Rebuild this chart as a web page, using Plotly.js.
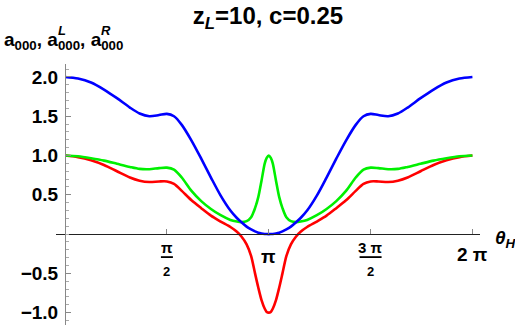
<!DOCTYPE html>
<html>
<head>
<meta charset="utf-8">
<script src="https://cdn.plot.ly/plotly-3.0.1.min.js"></script>
<style>
  html, body { margin: 0; padding: 0; background: #fff; }
  #chart { width: 515px; height: 327px; }
</style>
</head>
<body>
<div id="chart"></div>
<script>
// theta_H samples, 0 .. 2 pi
var thetaH = [
  0, 0.2, 0.4, 0.6, 0.8, 1.0, 1.15, 1.3, 1.45, 1.57, 1.68, 1.8, 1.95, 2.1, 2.25,
  2.4, 2.55, 2.65, 2.72, 2.8, 2.87, 2.93, 2.98, 3.03, 3.08, 3.11, 3.1416,
  3.1732, 3.2032, 3.2532, 3.3032, 3.3532, 3.4132, 3.4832, 3.5632, 3.6332, 3.7332,
  3.8832, 4.0332, 4.1832, 4.3332, 4.4832, 4.6032, 4.7132, 4.8332, 4.9832, 5.1332,
  5.2832, 5.4832, 5.6832, 5.8832, 6.0832, 6.2832
];

// a_000 (blue)
var a000 = [
  2.0, 1.98, 1.93, 1.84, 1.73, 1.61, 1.535, 1.50, 1.515, 1.53, 1.50, 1.39, 1.19, 0.96, 0.72,
  0.49, 0.30, 0.205, 0.152, 0.095, 0.06, 0.035, 0.018, 0.008, 0.002, 0.0005, 0,
  0.0005, 0.002, 0.008, 0.018, 0.035, 0.06, 0.095, 0.152, 0.205, 0.30,
  0.49, 0.72, 0.96, 1.19, 1.39, 1.50, 1.53, 1.515, 1.50, 1.535,
  1.61, 1.73, 1.84, 1.93, 1.98, 2.0
];

// a^L_000 (green)
var a000L = [
  1.0, 0.99, 0.965, 0.935, 0.895, 0.855, 0.83, 0.826, 0.84, 0.846, 0.82, 0.72, 0.55, 0.42, 0.32,
  0.24, 0.18, 0.16, 0.153, 0.165, 0.215, 0.33, 0.47, 0.68, 0.90, 0.97, 1.0,
  0.97, 0.90, 0.68, 0.47, 0.33, 0.215, 0.165, 0.153, 0.16, 0.18,
  0.24, 0.32, 0.42, 0.55, 0.72, 0.82, 0.846, 0.84, 0.826, 0.83,
  0.855, 0.895, 0.935, 0.965, 0.99, 1.0
];

// a^R_000 (red)
var a000R = [
  1.0, 0.98, 0.94, 0.88, 0.80, 0.72, 0.68, 0.663, 0.67, 0.67, 0.64, 0.55, 0.43, 0.33, 0.235,
  0.16, 0.09, 0.03, -0.03, -0.13, -0.28, -0.50, -0.68, -0.84, -0.95, -0.99, -1.0,
  -0.99, -0.95, -0.84, -0.68, -0.50, -0.28, -0.13, -0.03, 0.03, 0.09,
  0.16, 0.235, 0.33, 0.43, 0.55, 0.64, 0.67, 0.67, 0.663, 0.68,
  0.72, 0.80, 0.88, 0.94, 0.98, 1.0
];

var yTickVals = [-1.0, -0.5, 0.5, 1.0, 1.5, 2.0];
var yTickText = ['\u22121.0', '\u22120.5', '0.5', '1.0', '1.5', '2.0'];
var xTickVals = [Math.PI / 2, Math.PI, 3 * Math.PI / 2, 2 * Math.PI];

var FONT = 'Liberation Sans, Arial, sans-serif';

function curve(y, color) {
  return {
    x: thetaH, y: y, type: 'scatter', mode: 'lines',
    line: { color: color, width: 2.6, shape: 'spline', smoothing: 0.8 },
    hoverinfo: 'none'
  };
}

var data = [
  curve(a000R, '#ff0000'),
  curve(a000L, '#00f000'),
  curve(a000, '#0000ff')
];

function f(size) { return { family: FONT, size: size, color: '#000' }; }
function b(s) { return '<b>' + s + '</b>'; }

var annotations = [
  // x tick labels, Mathematica style
  { x: Math.PI / 2, y: 0, yshift: -13, text: b('\u03c0'), font: f(15) },
  { x: Math.PI / 2, y: 0, yshift: -37, text: b('2'), font: f(13) },
  { x: Math.PI, y: 0, yshift: -22, text: b('\u03c0'), font: f(19) },
  { x: 3 * Math.PI / 2, y: 0, yshift: -13, text: b('3 \u03c0'), font: f(15) },
  { x: 3 * Math.PI / 2, y: 0, yshift: -37, text: b('2'), font: f(13) },
  { x: 2 * Math.PI, y: 0, yshift: -20, text: b('2 \u03c0'), font: f(19) },
  // axis labels
  { xref: 'paper', x: 1.031, xanchor: 'left', y: 0, yshift: -5,
    text: b('<i>\u03b8</i><sub><i>H</i></sub>'), font: f(19) },
  { xref: 'paper', x: -0.128, xanchor: 'left', yref: 'paper', y: 1.09,
    text: b('a<sub>000</sub>, a<sub>000</sub>, a<sub>000</sub>'), font: f(19) },
  { xref: 'paper', x: -0.001, xanchor: 'left', yref: 'paper', y: 1.13,
    text: b('<i>L</i>'), font: f(13) },
  { xref: 'paper', x: 0.101, xanchor: 'left', yref: 'paper', y: 1.13,
    text: b('<i>R</i>'), font: f(13) }
].map(function (a) {
  a.showarrow = false;
  if (!a.xref) a.xref = 'x';
  if (!a.yref) a.yref = 'y';
  if (!a.yanchor) a.yanchor = 'middle';
  return a;
});

// fraction bars under the numerators
var shapes = [Math.PI / 2, 3 * Math.PI / 2].map(function (v, i) {
  var half = i === 0 ? 6 : 11;
  return {
    type: 'line', xref: 'x', yref: 'y',
    xsizemode: 'pixel', xanchor: v, x0: -half, x1: half,
    ysizemode: 'pixel', yanchor: 0, y0: -23, y1: -23,
    line: { color: '#000', width: 1.8 }
  };
});

var layout = {
  width: 515,
  height: 327,
  margin: { l: 56, r: 35, t: 64, b: 2 },
  paper_bgcolor: '#fff',
  plot_bgcolor: '#fff',
  showlegend: false,
  hovermode: false,
  title: {
    text: b('z<sub><i>L</i></sub>=10, c=0.25'),
    font: f(24),
    x: 0.5, xref: 'paper', y: 0.952, yref: 'container', yanchor: 'middle'
  },
  xaxis: {
    range: [-0.14, 6.40],
    anchor: 'free', position: 0.3487,
    showgrid: false, zeroline: false,
    showline: true, linecolor: '#222', linewidth: 1.2,
    tickmode: 'array', tickvals: xTickVals,
    ticks: 'inside', ticklen: 5, tickcolor: '#888', tickwidth: 1,
    showticklabels: false
  },
  yaxis: {
    range: [-1.157, 2.165],
    anchor: 'free', position: 0.0212,
    showgrid: false, zeroline: false,
    showline: true, linecolor: '#888', linewidth: 1,
    tickmode: 'array', tickvals: yTickVals, ticktext: yTickText.map(b),
    ticks: 'inside', ticklen: 5, tickcolor: '#888', tickwidth: 1,
    minor: { tickmode: 'linear', tick0: 0, dtick: 0.1, ticks: 'inside', ticklen: 3, tickcolor: '#aaa' },
    tickfont: f(19), ticklabelstandoff: 3
  },
  annotations: annotations,
  shapes: shapes
};

Plotly.newPlot('chart', data, layout, { staticPlot: true });
</script>
</body>
</html>
